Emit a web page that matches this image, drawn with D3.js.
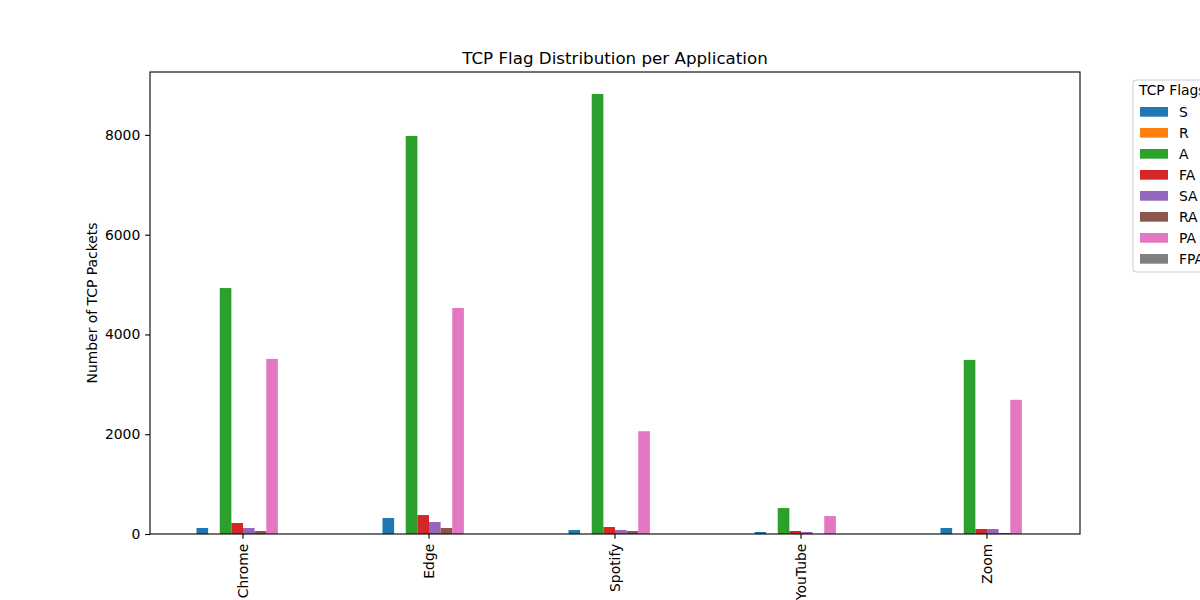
<!DOCTYPE html>
<html>
<head>
<meta charset="utf-8">
<script src="https://cdn.jsdelivr.net/npm/d3@7"></script>
<style>
  body { margin: 0; background: #fff; }
  svg { font-family: "DejaVu Sans", sans-serif; }
</style>
</head>
<body>
<svg id="chart" width="1200" height="600"></svg>
<script>
const categories = ["Chrome", "Edge", "Spotify", "YouTube", "Zoom"];
const flags = ["S", "R", "A", "FA", "SA", "RA", "PA", "FPA"];
const valuesS   = [120, 320, 80, 40, 120];
const valuesR   = [0, 0, 0, 0, 0];
const valuesA   = [4930, 7980, 8820, 520, 3490];
const valuesFA  = [220, 380, 140, 60, 100];
const valuesSA  = [120, 240, 80, 40, 100];
const valuesRA  = [60, 120, 60, 0, 20];
const valuesPA  = [3510, 4530, 2060, 360, 2690];
const valuesFPA = [0, 0, 0, 0, 0];
const yTicks = [0, 2000, 4000, 6000, 8000];
const colors = ["#1f77b4", "#ff7f0e", "#2ca02c", "#d62728", "#9467bd", "#8c564b", "#e377c2", "#7f7f7f"];

const seriesValues = [valuesS, valuesR, valuesA, valuesFA, valuesSA, valuesRA, valuesPA, valuesFPA];
const series = flags.map((f, i) => ({ flag: f, color: colors[i], values: seriesValues[i] }));

const svg = d3.select("#chart");
const mLeft = 150, mRight = 1080, mTop = 72, mBottom = 534;

const maxVal = d3.max(seriesValues.flat());
const y = d3.scaleLinear().domain([0, maxVal * 1.05]).range([mBottom, mTop]);
const x0 = d3.scaleBand().domain(categories).range([mLeft, mRight]).paddingInner(0.5).paddingOuter(0.25);
const x1 = d3.scaleBand().domain(flags).range([0, x0.bandwidth()]);

// bars
const g = svg.append("g");
series.forEach(s => {
  g.selectAll(null)
    .data(categories.map((c, i) => ({ c, v: s.values[i] })))
    .enter().append("rect")
    .attr("x", d => x0(d.c) + x1(s.flag))
    .attr("y", d => y(d.v))
    .attr("width", x1.bandwidth())
    .attr("height", d => mBottom - y(d.v))
    .attr("fill", s.color);
});

// axes
const yAxis = d3.axisLeft(y).tickValues(yTicks).tickSize(4.86).tickPadding(4.86).tickFormat(d3.format("d"));
const yg = svg.append("g").attr("transform", `translate(${mLeft},0)`).call(yAxis);
const xAxis = d3.axisBottom(x0).tickSize(4.86).tickPadding(4.86);
const xg = svg.append("g").attr("transform", `translate(0,${mBottom})`).call(xAxis);
[yg, xg].forEach(a => {
  a.select(".domain").remove();
  a.selectAll("line").attr("stroke", "#000").attr("stroke-width", 1.1);
  a.selectAll("text").attr("fill", "#000").attr("font-size", "13.9px").attr("font-family", "DejaVu Sans");
});
xg.selectAll("text")
  .attr("transform", "rotate(-90)")
  .attr("text-anchor", "end")
  .attr("x", -9.7)
  .attr("y", 0)
  .attr("dy", "0.35em");

// frame
svg.append("rect").attr("x", mLeft).attr("y", mTop).attr("width", mRight - mLeft).attr("height", mBottom - mTop)
  .attr("fill", "none").attr("stroke", "#000").attr("stroke-width", 1.1);

// title
svg.append("text").attr("x", (mLeft + mRight) / 2).attr("y", 64).attr("text-anchor", "middle")
  .attr("font-size", "16.7px").attr("fill", "#000").text("TCP Flag Distribution per Application");

// y label
svg.append("text").attr("transform", `translate(97,${(mTop + mBottom) / 2}) rotate(-90)`)
  .attr("text-anchor", "middle").attr("font-size", "13.9px").attr("fill", "#000").text("Number of TCP Packets");

// legend
const lg = svg.append("g").attr("transform", "translate(1133,80)");
lg.append("rect").attr("x", 0).attr("y", 0).attr("width", 110).attr("height", 192).attr("rx", 3)
  .attr("fill", "#fff").attr("fill-opacity", 0.8).attr("stroke", "#cccccc").attr("stroke-width", 1);
lg.append("text").attr("x", 6).attr("y", 15).attr("font-size", "13.9px").attr("fill", "#000").text("TCP Flags");
series.forEach((s, i) => {
  const row = lg.append("g").attr("transform", `translate(7,${27 + i * 21})`);
  row.append("rect").attr("x", 0).attr("y", 0).attr("width", 28).attr("height", 9.7).attr("fill", s.color);
  row.append("text").attr("x", 39).attr("y", 10).attr("font-size", "13.9px").attr("fill", "#000").text(s.flag);
});
</script>
</body>
</html>
